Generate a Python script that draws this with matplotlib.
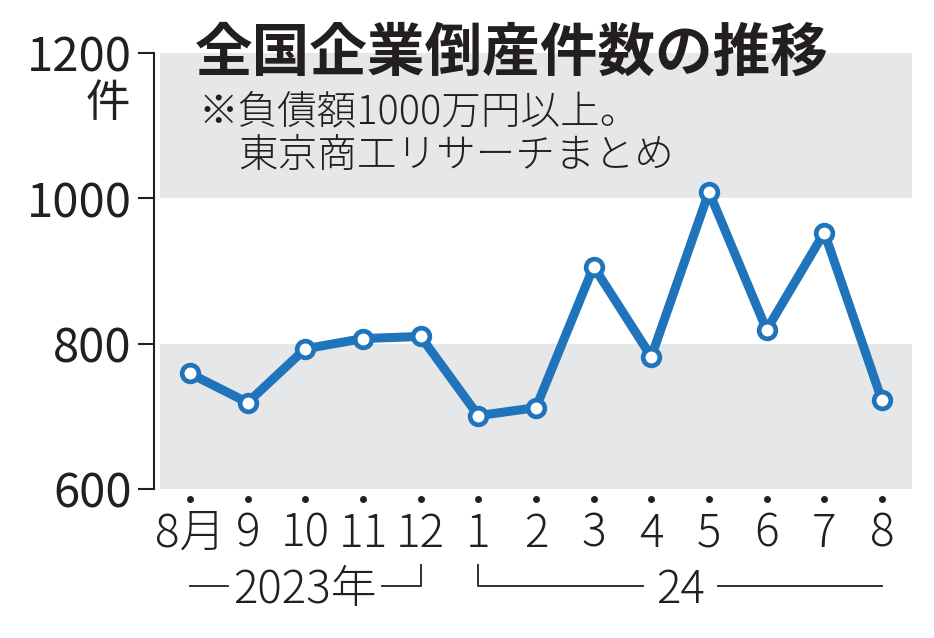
import matplotlib.pyplot as plt

plt.rcParams['font.family'] = ['Noto Sans CJK JP', 'DejaVu Sans']

# 全国企業倒産件数（東京商工リサーチ）
months = ["8月", "9", "10", "11", "12", "1", "2", "3", "4", "5", "6", "7", "8"]
counts = [759, 719, 793, 807, 810, 701, 712, 906, 782, 1009, 819, 953, 722]
yticks = [600, 800, 1000, 1200]

blue = "#1f74bb"
ink = "#231f20"
band = "#e6e7e8"

fig = plt.figure(figsize=(9.34, 6.38), dpi=100)
ax = fig.add_axes([0.1713, 0.2335, 0.8051, 0.6834])

x = list(range(len(months)))
ax.set_xlim(-0.52, 12.52)
ax.set_ylim(600, 1200)

# 背景の帯
ax.axhspan(600, 800, color=band, lw=0, zorder=0)
ax.axhspan(1000, 1200, color=band, lw=0, zorder=0)

ax.plot(x, counts, color=blue, lw=6.5, solid_joinstyle="round", zorder=3)
ax.plot(x, counts, ls="none", marker="o", ms=12, mfc="white",
        mec=blue, mew=3.4, zorder=4)

for s in ["top", "right", "bottom"]:
    ax.spines[s].set_visible(False)
ax.spines["left"].set_position(("outward", 4))
ax.spines["left"].set_linewidth(1.5)
ax.spines["left"].set_color(ink)
ax.set_xticks([])
ax.set_yticks(yticks)
ax.set_yticklabels([str(v) for v in yticks])
ax.tick_params(axis="y", length=11.5, width=1.5, color=ink, pad=5,
               labelsize=34, labelcolor=ink)

# 月ラベルと点
tr = ax.get_xaxis_transform()
for i, m in enumerate(months):
    ax.plot(i, -0.023, "o", ms=4, color=ink, transform=tr, clip_on=False)
    ax.text(i, -0.103, m, transform=tr, ha="center", va="center",
            fontsize=33, color=ink, fontweight="light")

# 年のブラケット
yl = -0.2225
ax.text(2, -0.2317, "2023年", transform=tr, ha="center", va="center",
        fontsize=33, color=ink, fontweight="light")
ax.plot([0, 0.66], [yl, yl], color=ink, lw=1.3, transform=tr, clip_on=False)
ax.plot([3.33, 4, 4], [yl, yl, -0.174], color=ink, lw=1.3, transform=tr,
        clip_on=False)
ax.text(8.5, -0.2317, "24", transform=tr, ha="center", va="center",
        fontsize=33, color=ink, fontweight="light")
ax.plot([5, 5, 7.85], [-0.174, yl, yl], color=ink, lw=1.3, transform=tr,
        clip_on=False)
ax.plot([9.15, 12], [yl, yl], color=ink, lw=1.3, transform=tr, clip_on=False)

# 単位
fig.text(130 / 934, 1 - 103 / 638, "件", ha="right", va="center",
         fontsize=32, color=ink)

# タイトルと注記
fig.text(195 / 934, 1 - 54 / 638, "全国企業倒産件数の推移", ha="left",
         va="center", fontsize=41.5, fontweight="bold", color=ink)
fig.text(198 / 934, 1 - 112 / 638, "※負債額1000万円以上。", ha="left",
         va="center", fontsize=28.5, color=ink, fontweight="light")
fig.text(238 / 934, 1 - 156 / 638, "東京商工リサーチまとめ", ha="left",
         va="center", fontsize=28.5, color=ink, fontweight="light")

fig.savefig("out.png", dpi=100, facecolor="white")
